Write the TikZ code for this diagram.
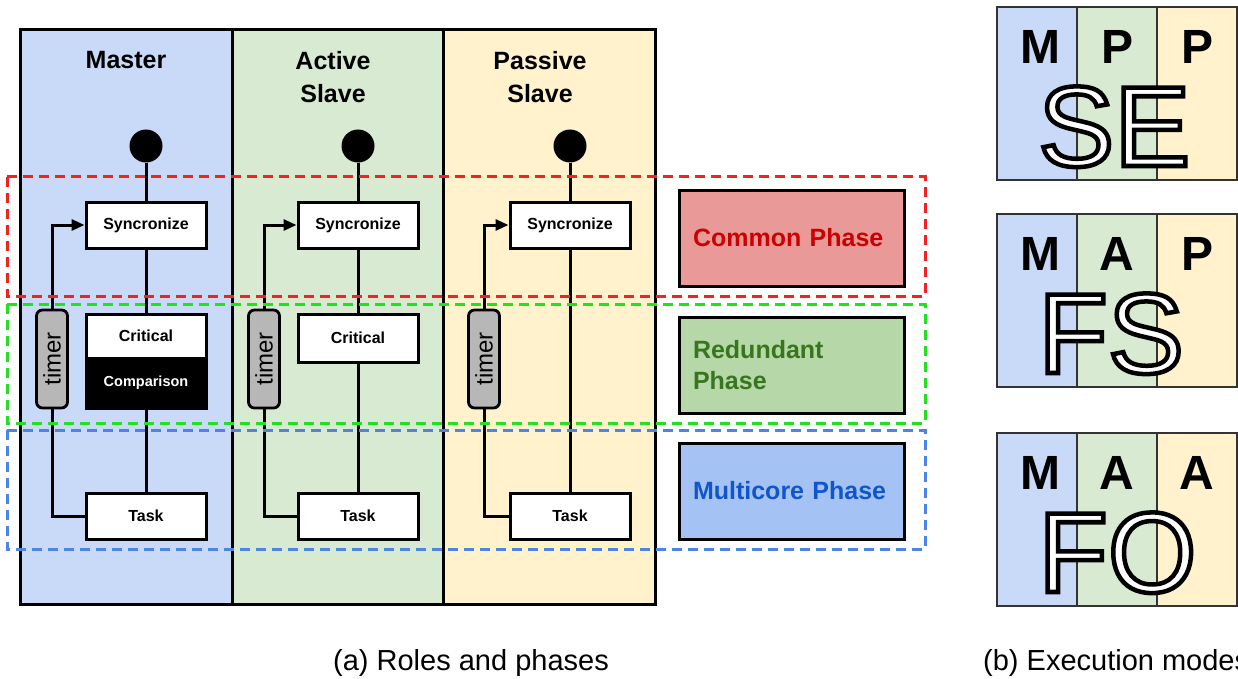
\documentclass[tikz,border=0pt]{standalone}
\usepackage{fontspec}
\setmainfont{Liberation Sans}
\usetikzlibrary{arrows.meta}

\definecolor{laneM}{HTML}{C9DAF8}
\definecolor{laneA}{HTML}{D9EAD3}
\definecolor{laneP}{HTML}{FFF2CC}
\definecolor{dashR}{HTML}{F22222}
\definecolor{dashG}{HTML}{22E022}
\definecolor{dashB}{HTML}{4A86E8}
\definecolor{fillR}{HTML}{EA9999}
\definecolor{textR}{HTML}{CC0000}
\definecolor{fillG}{HTML}{B6D7A8}
\definecolor{textG}{HTML}{38761D}
\definecolor{fillB}{HTML}{A4C2F4}
\definecolor{textB}{HTML}{1155CC}
\definecolor{timergray}{HTML}{B7B7B7}

% white letters with a black stroked outline (fill+stroke render mode)
\newcommand\outlined[1]{\special{pdf:literal direct 0 G 2 Tr 4.5 w}#1}

\tikzset{
  frameline/.style={draw=black, line width=3pt},
  title/.style={font=\fontsize{25}{33}\selectfont\bfseries, align=center},
  dot/.style={circle, fill=black, minimum size=33pt, inner sep=0pt},
  stepbox/.style={draw=black, fill=white, line width=3pt, minimum width=120pt,
    minimum height=46pt, inner sep=0pt, font=\fontsize{16}{18}\selectfont\bfseries},
  compbox/.style={stepbox, fill=black, text=white, font=\fontsize{14.5}{16}\selectfont\bfseries},
  timerbox/.style={draw=black, fill=timergray, line width=2.8pt, rounded corners=6pt,
    minimum width=31pt, minimum height=98pt, inner sep=0pt, font=\fontsize{24}{26}\selectfont},
  wire/.style={line width=3pt},
  loopback/.style={wire, -{Triangle[length=13pt,width=11pt]}},
  phaseframe/.style={line width=3pt, dash pattern=on 10pt off 6pt},
  phasebox/.style={draw=black, line width=3pt, minimum width=225pt, minimum height=96pt,
    text width=197pt, inner xsep=14pt, align=left, font=\fontsize{25}{31}\selectfont\bfseries},
  modeframe/.style={draw=black!80, line width=2.4pt},
  role/.style={font=\fontsize{48}{50}\selectfont\bfseries},
  mode/.style={font=\fontsize{114}{118}\selectfont, text=white, inner sep=0pt, anchor=base west},
  caption/.style={font=\fontsize{29}{32}\selectfont}
}

\begin{document}
\begin{tikzpicture}[x=1pt,y=-1pt]
\useasboundingbox (0,0) rectangle (1238,679);

% ---------------- (a) roles and phases ----------------
% swim lanes
\path[fill=laneM] (20,30) rectangle (232,604);
\path[fill=laneA] (232,30) rectangle (443,604);
\path[fill=laneP] (443,30) rectangle (655,604);
\draw[frameline] (20,30) rectangle (655,604);
\draw[frameline] (232,30) -- (232,604);
\draw[frameline] (443,30) -- (443,604);

\node[title] (tm) at (126,60) {Master};
\node[title] (ta) at (333,77) {Active\\Slave};
\node[title] (tp) at (540,77) {Passive\\Slave};

% Master lane
\node[dot] (mstart) at (146,146) {};
\node[stepbox] (msync) at (146,225) {Syncronize};
\node[stepbox, minimum height=44pt] (mcrit) at (146,336) {Critical};
\node[compbox, minimum height=50pt] (mcomp) at (146,383) {Comparison};
\node[stepbox] (mtask) at (146,516) {Task};
\node[timerbox] (mtimer) at (52,359) {\rotatebox{90}{timer}};
\draw[wire] (mstart) -- (msync);
\draw[wire] (msync) -- (mcrit);
\draw[wire] (mcomp) -- (mtask);
\draw[wire] (mtask.west) -| (mtimer.south);
\draw[loopback] (mtimer.north) |- (msync.west);

% Active slave lane
\node[dot] (astart) at (358,146) {};
\node[stepbox] (async) at (358,225) {Syncronize};
\node[stepbox, minimum height=48pt] (acrit) at (358,338) {Critical};
\node[stepbox] (atask) at (358,516) {Task};
\node[timerbox] (atimer) at (264,359) {\rotatebox{90}{timer}};
\draw[wire] (astart) -- (async);
\draw[wire] (async) -- (acrit);
\draw[wire] (acrit) -- (atask);
\draw[wire] (atask.west) -| (atimer.south);
\draw[loopback] (atimer.north) |- (async.west);

% Passive slave lane
\node[dot] (pstart) at (570,146) {};
\node[stepbox] (psync) at (570,225) {Syncronize};
\node[stepbox] (ptask) at (570,516) {Task};
\node[timerbox] (ptimer) at (484,359) {\rotatebox{90}{timer}};
\draw[wire] (pstart) -- (psync);
\draw[wire] (psync) -- (ptask);
\draw[wire] (ptask.west) -| (ptimer.south);
\draw[loopback] (ptimer.north) |- (psync.west);

% phase regions
\draw[phaseframe, draw=dashR] (7,177) rectangle (925,296);
\draw[phaseframe, draw=dashG] (7,304) rectangle (925,423);
\draw[phaseframe, draw=dashB] (7,430) rectangle (925,549);

\node[phasebox, fill=fillR, text=textR] (common) at (791.5,238) {Common Phase};
\node[phasebox, fill=fillG, text=textG] (redundant) at (791.5,365) {Redundant\\Phase};
\node[phasebox, fill=fillB, text=textB] (multicore) at (791.5,491) {Multicore Phase};

\node[caption] (capa) at (471,663) {(a) Roles and phases};

% ---------------- (b) execution modes ----------------
\foreach \t/\ra/\rb/\rc/\md in {7/M/P/P/SE, 214/M/A/P/FS, 433/M/A/A/FO}{
  \path[fill=laneM] (997,\t) rectangle (1077,\t+173);
  \path[fill=laneA] (1077,\t) rectangle (1157,\t+173);
  \path[fill=laneP] (1157,\t) rectangle (1237,\t+173);
  \draw[modeframe] (997,\t) rectangle (1237,\t+173);
  \draw[modeframe] (1077,\t) -- (1077,\t+173);
  \draw[modeframe] (1157,\t) -- (1157,\t+173);
  \node[role] at (1040,\t+40) {\ra};
  \node[role] at (1117,\t+40) {\rb};
  \node[role] at (1197,\t+40) {\rc};
  \node[mode] at (1038,\t+159) {\outlined{\md}};
}

\node[caption, anchor=west, inner sep=0pt] (capb) at (983,663) {(b) Execution modes};
\end{tikzpicture}
\end{document}
